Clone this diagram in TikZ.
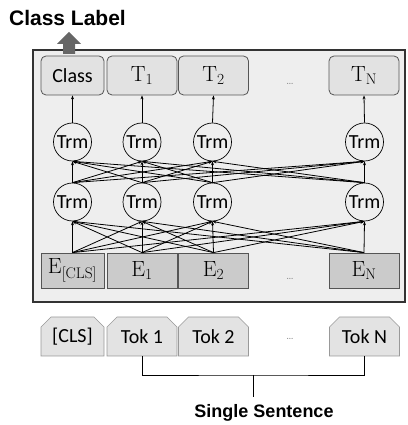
\documentclass[tikz,border=0pt]{standalone}
\usepackage{fontspec}
\setsansfont{Carlito}
\newfontfamily\headfont{Liberation Sans}
\usetikzlibrary{shapes.misc,arrows.meta,positioning}
\definecolor{panel}{HTML}{EEEEEE}
\definecolor{outbox}{HTML}{E2E2E2}
\definecolor{embbox}{HTML}{CBCBCB}
\definecolor{tokbox}{HTML}{E3E3E3}
\definecolor{edge}{HTML}{555555}

\begin{document}
\begin{tikzpicture}[x=1pt, y=1pt,
    outnode/.style={rectangle, rounded corners=5pt, draw=edge, fill=outbox, line width=0.8pt,
        minimum width=70pt, minimum height=39pt, inner sep=0pt},
    embnode/.style={rectangle, draw=edge, fill=embbox, line width=0.8pt,
        minimum width=70pt, minimum height=35pt, inner sep=0pt},
    toknode/.style={chamfered rectangle, chamfered rectangle corners={north west,north east},
        chamfered rectangle xsep=5pt, chamfered rectangle ysep=5pt,
        draw=gray!80, fill=tokbox, line width=0.6pt,
        minimum width=70pt, minimum height=39pt, inner sep=0pt,
        font=\sffamily\fontsize{20}{24}\selectfont},
    trm/.style={circle, draw, fill=panel, line width=0.7pt, minimum size=38pt, inner sep=0pt,
        font=\sffamily\fontsize{20}{24}\selectfont},
    serif/.style={font=\fontsize{22}{26}\selectfont},
    conn/.style={line width=0.8pt, -{Stealth[length=4pt,width=3pt]}},
    dotsnode/.style={text=gray, font=\fontsize{12}{14}\selectfont},
    heading/.style={font=\headfont\bfseries\fontsize{21}{25}\selectfont},
]
    \useasboundingbox (0,0) rectangle (407,425);

    % BERT panel
    \draw[fill=panel, draw=black!80, line width=1.3pt] (33,123) rectangle (405,375);

    % Output row
    \node[outnode, minimum width=63pt, font=\sffamily\fontsize{20}{24}\selectfont] (t1) at (72.5,349.5) {Class};
    \node[outnode, serif] (t2) at (142,349.5) {T\textsubscript{1}};
    \node[outnode, serif] (t3) at (213.5,349.5) {T\textsubscript{2}};
    \node[outnode, serif] (t4) at (364,349.5) {T\textsubscript{N}};
    \node[dotsnode] (tdots) at (290,341) {\dots};

    % Transformer layers
    \foreach \n/\x in {1/72.5, 2/142, 3/212.5, 4/364.5} {
        \node[trm] (u\n) at (\x,283) {Trm};
        \node[trm] (l\n) at (\x,223) {Trm};
    }

    % Embeddings
    \node[embnode, minimum width=63pt, serif] (e1) at (72.5,154.5) {E\textsubscript{[CLS]}};
    \node[embnode, serif] (e2) at (142,154.5) {E\textsubscript{1}};
    \node[embnode, serif] (e3) at (213.5,154.5) {E\textsubscript{2}};
    \node[embnode, serif] (e4) at (364,154.5) {E\textsubscript{N}};
    \node[dotsnode] (edots) at (290,146) {\dots};

    % Full connections between layers
    \foreach \i in {1,...,4} {
        \foreach \j in {1,...,4} {
            \draw[conn] (e\i.north) -- (l\j.south);
            \draw[conn] (l\i.north) -- (u\j.south);
        }
        \draw[conn] (u\i.north) -- (t\i.south);
    }

    % Input tokens
    \node[toknode, minimum width=63pt] (k1) at (72.5,88.5) {[CLS]};
    \node[toknode] (k2) at (142,88.5) {Tok 1};
    \node[toknode] (k3) at (213.5,88.5) {Tok 2};
    \node[toknode] (k4) at (364.5,88.5) {Tok N};
    \node[dotsnode] (kdots) at (290,86) {\dots};

    % Sentence bracket
    \coordinate (brk) at (253.5,50);
    \coordinate (brkend) at (253.5,28);
    \draw[line width=0.8pt] (k2.south) |- (brk) -| (k4.south);
    \draw[line width=0.8pt] (brk) -- (brkend);
    \node[heading, font=\headfont\bfseries\fontsize{18}{22}\selectfont] (sent) at (264,12) {Single Sentence};

    % Class output arrow
    \fill[black!60] (63,371) -- (63,381) -- (57,381) -- (69,393) -- (81,381) -- (75,381) -- (75,371) -- cycle;
    \node[heading] (label) at (67.5,407) {Class Label};
\end{tikzpicture}
\end{document}
